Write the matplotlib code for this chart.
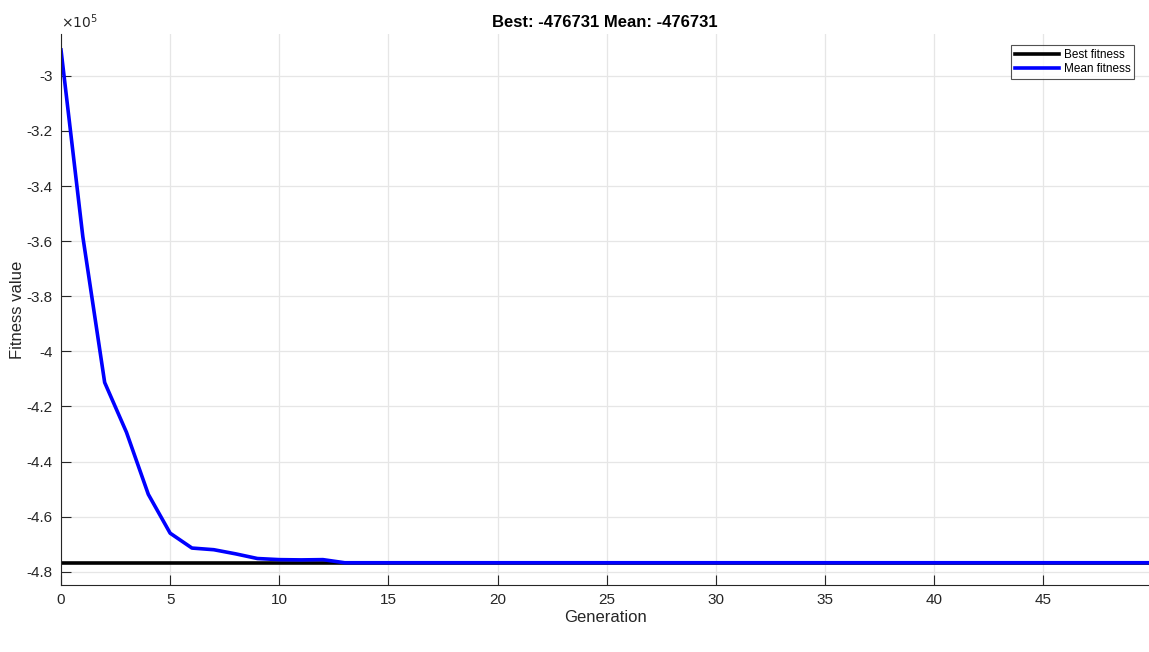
import numpy as np
import matplotlib
matplotlib.use("Agg")
from matplotlib import pyplot as plt
from matplotlib.ticker import FuncFormatter, MultipleLocator

plt.rcParams['font.family'] = ['Liberation Sans', 'DejaVu Sans']

# GA run: best and mean fitness per generation (0..50)
generations = np.arange(51)
best_value = -476731
best_fitness = np.full(51, best_value)
mean_head = [-290600, -358400, -411300, -429400, -451900, -466000, -471400,
             -472000, -473500, -475200, -475600, -475700, -475600]
mean_fitness = np.array(mean_head + [best_value] * (51 - len(mean_head)))

fig = plt.figure(figsize=(11.49, 6.52), dpi=100)
ax = fig.add_axes([0.0531, 0.1028, 0.9469, 0.8451])

ax.plot(generations, best_fitness, color='black', lw=2.6, label='Best fitness')
ax.plot(generations, mean_fitness, color='#0000ff', lw=2.6, label='Mean fitness')

ax.set_xlim(0, 49.85)
ax.set_ylim(-484800, -284800)
ax.xaxis.set_major_locator(MultipleLocator(5))
ax.yaxis.set_major_locator(MultipleLocator(20000))
ax.yaxis.set_major_formatter(FuncFormatter(lambda v, p: f"{v / 1e5:g}"))
ax.text(0.0, 1.005, r"$\times10^{5}$", transform=ax.transAxes, fontsize=10,
        color='#262626', ha='left', va='bottom')

ax.grid(True, color='#e6e6e6', lw=0.9)
ax.set_axisbelow(True)
for side in ('top', 'right'):
    ax.spines[side].set_visible(False)
for side in ('left', 'bottom'):
    ax.spines[side].set_color('#262626')
    ax.spines[side].set_linewidth(0.8)
ax.tick_params(direction='in', length=7, width=0.8, colors='#262626',
               labelsize=11, pad=6)

ax.set_xlabel('Generation', fontsize=12, color='#262626', labelpad=2)
ax.set_ylabel('Fitness value', fontsize=12, color='#262626')
ax.yaxis.set_label_coords(-0.033, 0.5)
ax.set_title(f'Best: {best_value} Mean: {best_value}', fontsize=12,
             fontweight='bold', pad=5)

leg = ax.legend(loc='upper right', bbox_to_anchor=(0.992, 0.99), fontsize=8.5,
                frameon=True, fancybox=False, handlelength=3.8,
                borderpad=0.3, labelspacing=0.2, handletextpad=0.4)
leg.get_frame().set_edgecolor('#262626')
leg.get_frame().set_linewidth(0.8)

fig.savefig('out.png', dpi=100)
